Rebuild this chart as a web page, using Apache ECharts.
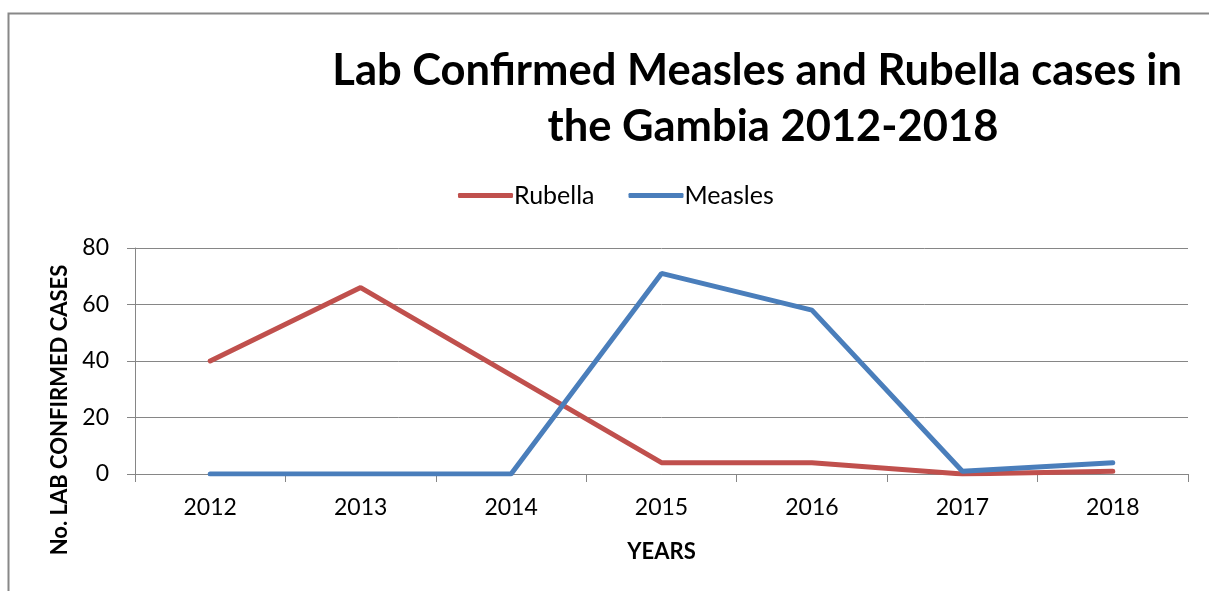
<!DOCTYPE html>
<html><head><meta charset="utf-8">
<script src="https://cdn.jsdelivr.net/npm/echarts@6/dist/echarts.min.js"></script>
<style>html,body{margin:0;padding:0;background:#fff}#c{width:1209px;height:591px}</style>
</head><body><div id="c"></div>
<script>
const years = ['2012','2013','2014','2015','2016','2017','2018'];
const rubella = [40, 66, 35, 4, 4, 0, 1];
const measles = [0, 0, 0, 71, 58, 1, 4];
const yTicks = [0, 20, 40, 60, 80];

const FONT = 'Lato, "Liberation Sans", sans-serif';
const chart = echarts.init(document.getElementById('c'));
chart.setOption({
  animation: false,
  backgroundColor: '#fff',
  title: {
    text: 'Lab Confirmed Measles and Rubella cases in   \nthe Gambia 2012-2018',
    left: 768, top: 38, textAlign: 'center',
    textStyle: { fontFamily: FONT, fontWeight: 'bold', fontSize: 43.5, lineHeight: 56, color: '#000' }
  },
  legend: {
    top: 178, left: 453,
    data: ['Rubella', 'Measles'],
    itemWidth: 55, itemHeight: 5, itemGap: 34,
    icon: 'roundRect',
    textStyle: { fontFamily: FONT, fontSize: 25, color: '#000', padding: [0,0,0,-4] }
  },
  grid: { left: 135, right: 21, top: 248, bottom: 117, containLabel: false },
  xAxis: {
    type: 'category', data: years, boundaryGap: true,
    name: 'YEARS', nameLocation: 'middle', nameGap: 67,
    nameTextStyle: { fontFamily: FONT, fontWeight: 'bold', fontSize: 22, color: '#000' },
    axisLine: { lineStyle: { color: '#868686', width: 1 } },
    axisTick: { show: true, alignWithLabel: false, length: 8, lineStyle: { color: '#868686' } },
    axisLabel: { fontFamily: FONT, fontSize: 23, color: '#000', margin: 22 }
  },
  yAxis: {
    type: 'value', min: yTicks[0], max: yTicks[yTicks.length-1], interval: 20,
    axisLine: { show: true, lineStyle: { color: '#868686', width: 1 } },
    axisTick: { show: true, length: 8, lineStyle: { color: '#868686' } },
    splitLine: { lineStyle: { color: '#868686', width: 1 } },
    axisLabel: { fontFamily: FONT, fontSize: 23, color: '#000', margin: 26 }
  },
  graphic: [
    { type: 'rect', shape: { x: 8.5, y: 13.5, width: 1400, height: 800 }, style: { fill: 'none', stroke: '#888', lineWidth: 2 }, silent: true, z: -1 },
    { type: 'text', x: 60, y: 410, rotation: Math.PI/2, style: { text: 'No. LAB CONFIRMED CASES', fontFamily: FONT, fontWeight: 'bold', fontSize: 22, fill: '#000', align: 'center', verticalAlign: 'middle' } }
  ],
  series: [
    { name: 'Rubella', type: 'line', data: rubella, symbol: 'none', color: '#C0504D', lineStyle: { width: 5, color: '#C0504D', cap: 'round' } },
    { name: 'Measles', type: 'line', data: measles, symbol: 'none', color: '#4A7EBB', lineStyle: { width: 5, color: '#4A7EBB', cap: 'round' } }
  ]
});
</script></body></html>
